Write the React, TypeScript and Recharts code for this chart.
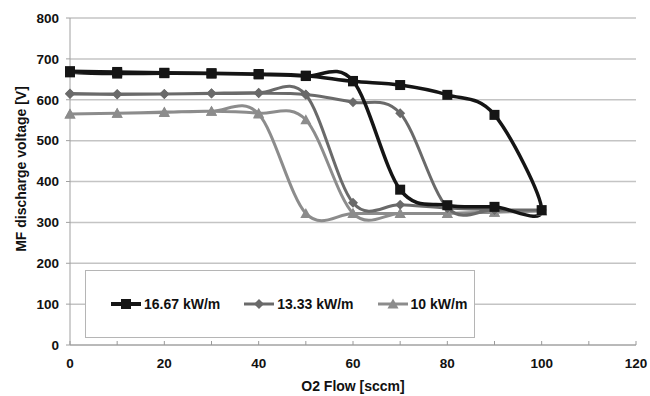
import React from "react";
import { LineChart, Line, XAxis, YAxis, CartesianGrid, Legend } from "recharts";

// O2 flow steps: ramp up, then ramp back down (hysteresis loop)
const flowUp = [0, 10, 20, 30, 40, 50, 60, 70, 80, 90, 100];
const flowDown = [100, 90, 80, 70, 60, 50, 40, 30, 20, 10, 0];

const v1667Up = [670, 668, 666, 665, 663, 659, 645, 636, 612, 563, 330];
const v1667Down = [330, 338, 342, 380, 646, 658, 662, 664, 665, 664, 667];

const v1333Up = [615, 614, 614, 615, 616, 613, 594, 567, 336, 331, 330];
const v1333Down = [330, 331, 335, 343, 348, 612, 617, 616, 614, 613, 614];

const v10Up = [565, 567, 569, 572, 567, 551, 322, 322, 322, 325, 328];
const v10Down = [328, 325, 322, 322, 322, 322, 565, 572, 570, 567, 565];

const seriesNames = ["16.67 kW/m", "13.33 kW/m", "10 kW/m"];
const xTicks = [0, 10, 20, 30, 40, 50, 60, 70, 80, 90, 100, 110, 120];
const yTicks = [0, 100, 200, 300, 400, 500, 600, 700, 800];

const loop = (up: number[], down: number[]) => [
  ...flowUp.map((x, i) => ({ x, v: up[i] })),
  ...flowDown.slice(1).map((x, i) => ({ x, v: down[i + 1] })),
];

const d1667 = loop(v1667Up, v1667Down);
const d1333 = loop(v1333Up, v1333Down);
const d10 = loop(v10Up, v10Down);

const font = "'Liberation Sans', Arial, sans-serif";
const colors = ["#151515", "#6a6a6a", "#8c8c8c"];

// Excel-like smoothed line (Catmull-Rom as cubic beziers), works for loops
const smooth = (ctx: any) => {
  let pts: number[][] = [];
  return {
    areaStart() {},
    areaEnd() {},
    lineStart() {
      pts = [];
    },
    point(x: number, y: number) {
      pts.push([+x, +y]);
    },
    lineEnd() {
      if (!pts.length) return;
      ctx.moveTo(pts[0][0], pts[0][1]);
      for (let i = 0; i < pts.length - 1; i++) {
        const p0 = pts[Math.max(i - 1, 0)];
        const p1 = pts[i];
        const p2 = pts[i + 1];
        const p3 = pts[Math.min(i + 2, pts.length - 1)];
        ctx.bezierCurveTo(
          p1[0] + (p2[0] - p0[0]) / 6,
          p1[1] + (p2[1] - p0[1]) / 6,
          p2[0] - (p3[0] - p1[0]) / 6,
          p2[1] - (p3[1] - p1[1]) / 6,
          p2[0],
          p2[1]
        );
      }
    },
  };
};

const Marker = ({ kind, cx, cy, color }: any) => {
  if (kind === 0) return <rect x={cx - 5} y={cy - 5} width={10} height={10} fill={color} />;
  if (kind === 1)
    return <polygon points={`${cx},${cy - 5} ${cx + 5},${cy} ${cx},${cy + 5} ${cx - 5},${cy}`} fill={color} />;
  return <polygon points={`${cx},${cy - 5.5} ${cx + 5.5},${cy + 4.5} ${cx - 5.5},${cy + 4.5}`} fill={color} />;
};

const dotFor = (kind: number) => (p: any) =>
  <Marker key={`${kind}-${p.index}`} kind={kind} cx={p.cx} cy={p.cy} color={colors[kind]} />;

const XTick = ({ x, y, payload }: any) => (
  <g>
    <line x1={x} x2={x} y1={y - 4} y2={y} stroke="#9a9a9a" />
    {payload.value % 20 === 0 && (
      <text x={x} y={y + 23} textAnchor="middle" fontFamily={font} fontWeight="bold" fontSize={13.5} fill="#111">
        {payload.value}
      </text>
    )}
  </g>
);

const LegendBox = () => (
  <div
    style={{
      boxSizing: "border-box",
      width: 390,
      height: 68,
      background: "#fff",
      border: "1px solid #b5b5b5",
      display: "flex",
      alignItems: "center",
      paddingLeft: 25,
      gap: 24,
      fontFamily: font,
      fontWeight: "bold",
      fontSize: 14,
      color: "#111",
    }}
  >
    {seriesNames.map((name, i) => (
      <div key={name} style={{ display: "flex", alignItems: "center", gap: 3 }}>
        <svg width={30} height={12}>
          <line x1={0} x2={30} y1={6} y2={6} stroke={colors[i]} strokeWidth={i === 0 ? 4 : 3} />
          <Marker kind={i} cx={15} cy={6} color={colors[i]} />
        </svg>
        <span>{name}</span>
      </div>
    ))}
  </div>
);

export default function App() {
  return (
    <div style={{ position: "absolute", left: 0, top: 0, background: "#fff" }}>
      <LineChart width={650} height={396} margin={{ top: 18, right: 14, bottom: 16, left: 30 }}>
        <CartesianGrid vertical={false} stroke="#c4c4c4" strokeWidth={1.5} />
        <XAxis
          dataKey="x"
          type="number"
          domain={[0, 120]}
          ticks={xTicks}
          interval={0}
          height={35}
          tickSize={0}
          tickMargin={0}
          tickLine={false}
          stroke="#a0a0a0"
          tick={<XTick />}
          allowDuplicatedCategory
          label={(props: any) => (
            <text x={353} y={391} textAnchor="middle" fontFamily={font} fontWeight="bold" fontSize={14} fill="#111">
              O2 Flow [sccm]
            </text>
          )}
        />
        <YAxis
          type="number"
          domain={[0, 800]}
          ticks={yTicks}
          interval={0}
          width={40}
          tickSize={4}
          tickMargin={7}
          stroke="#a0a0a0"
          tick={{ fontFamily: font, fontWeight: "bold", fontSize: 13.5, fill: "#111" }}
          label={(props: any) => (
            <text
              x={21}
              y={169}
              transform="rotate(-90, 21, 169)"
              textAnchor="middle"
              dominantBaseline="central"
              fontFamily={font}
              fontWeight="bold"
              fontSize={14}
              fill="#111"
            >
              MF discharge voltage [V]
            </text>
          )}
        />
        <Legend
          layout="horizontal"
          verticalAlign="middle"
          align="center"
          wrapperStyle={{ left: 85, top: 270, width: 390, height: 68 }}
          content={() => <LegendBox />}
        />
        <Line
          data={d10}
          dataKey="v"
          name={seriesNames[2]}
          type={smooth as any}
          stroke={colors[2]}
          strokeWidth={3}
          dot={dotFor(2)}
          activeDot={false}
          isAnimationActive={false}
        />
        <Line
          data={d1333}
          dataKey="v"
          name={seriesNames[1]}
          type={smooth as any}
          stroke={colors[1]}
          strokeWidth={3}
          dot={dotFor(1)}
          activeDot={false}
          isAnimationActive={false}
        />
        <Line
          data={d1667}
          dataKey="v"
          name={seriesNames[0]}
          type={smooth as any}
          stroke={colors[0]}
          strokeWidth={3.5}
          dot={dotFor(0)}
          activeDot={false}
          isAnimationActive={false}
        />
      </LineChart>
    </div>
  );
}
